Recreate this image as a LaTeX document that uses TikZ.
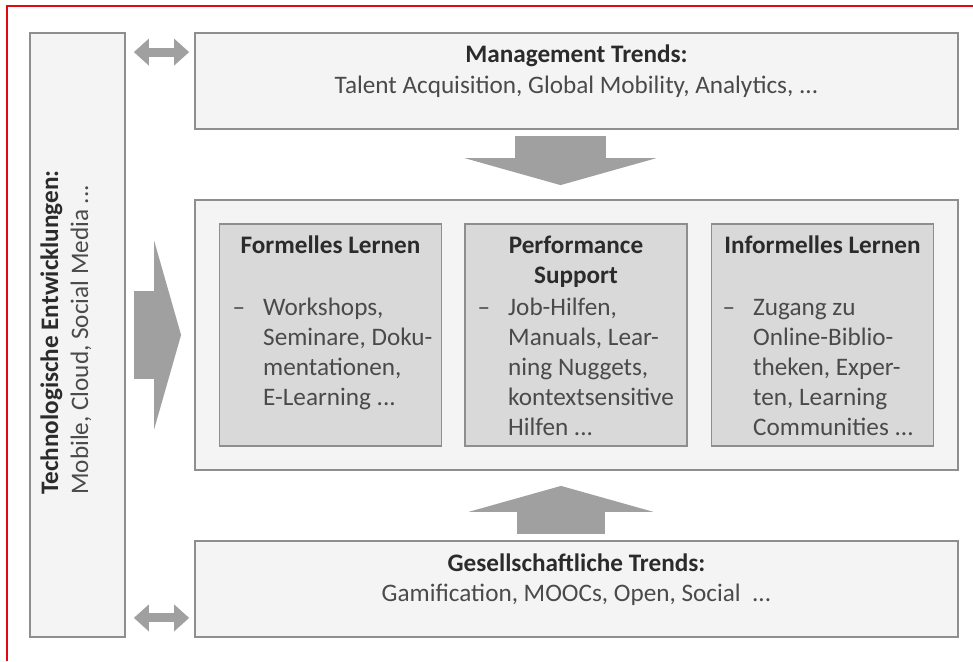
\documentclass[tikz,border=0pt]{standalone}
\usepackage{fontspec}
\setmainfont{Carlito}
\usepackage{tikz}
\usetikzlibrary{arrows.meta,positioning}

\definecolor{framered}{HTML}{E30613}
\definecolor{boxfill}{HTML}{F4F4F4}
\definecolor{learnfill}{HTML}{D9D9D9}
\definecolor{boxline}{HTML}{8E8E8E}
\definecolor{arrowgray}{HTML}{A0A0A0}
\definecolor{headgray}{HTML}{2B2B2B}
\definecolor{bodygray}{HTML}{4A4A4A}

\newcommand{\basesize}{\fontsize{25.2}{30}\selectfont}
\newcommand{\itemdash}{\llap{--\hspace{18pt}}}

\tikzset{
  trendbox/.style={draw=boxline, fill=boxfill, line width=1.8pt, minimum width=763pt, inner sep=0pt},
  learnbox/.style={draw=boxline, fill=learnfill, line width=1.8pt, minimum width=222pt, minimum height=222pt, inner sep=0pt},
  headtext/.style={font=\basesize\bfseries, text=headgray, inner sep=0pt},
  bodytext/.style={font=\basesize, text=bodygray, inner sep=0pt},
  duoarrow/.style={draw=arrowgray, line width=9pt,
    {Triangle[length=15pt, width=27pt, line width=0pt]}-{Triangle[length=15pt, width=27pt, line width=0pt]}},
  bigarrow/.style={draw=arrowgray, line width=#1pt}
}

\begin{document}
\begin{tikzpicture}[x=1pt, y=-1pt]
\useasboundingbox (0,0) rectangle (973,661);
\draw[framered, line width=2.5pt] (7,661) -- (7,6) -- (973,6);

\node[draw=boxline, fill=boxfill, line width=1.8pt, minimum width=95pt, minimum height=604pt, inner sep=0pt] (tech) at (77.5,335) {};
\node[headtext, rotate=90, anchor=base west] (techtitle) at (58,495) {Technologische Entwicklungen:};
\node[bodytext, rotate=90, anchor=base west] (techlist) at (88,495) {Mobile, Cloud, Social Media ...};

\node[trendbox, minimum height=96pt] (mgmt) at (576.5,81) {};
\node[headtext, anchor=base] (mgmttitle) at (576.5,63) {Management Trends:};
\node[bodytext, anchor=base] (mgmtlist) at (576.5,93) {Talent Acquisition, Global Mobility, Analytics, ...};

\node[trendbox, minimum height=270pt] (core) at (576.5,335) {};
\node[learnbox] (formal) at (330.5,335) {};
\node[learnbox] (perform) at (576,335) {};
\node[learnbox] (informal) at (822.5,335) {};

\node[headtext, anchor=base] (formaltitle) at (330.5,253) {Formelles Lernen};
\node[headtext, anchor=base, align=center] (performtitle) at (576,283) {Performance\\Support};
\node[headtext, anchor=base] (informaltitle) at (822.5,253) {Informelles Lernen};

\node[bodytext, anchor=base west, align=left] (formallist) at (263,405) {\itemdash Workshops,\\Seminare, Doku-\\mentationen,\\E-Learning ...};
\node[bodytext, anchor=base west, align=left] (performlist) at (508,435) {\itemdash Job-Hilfen,\\Manuals, Lear-\\ning Nuggets,\\kontextsensitive\\Hilfen ...};
\node[bodytext, anchor=base west, align=left] (informallist) at (753,435) {\itemdash Zugang zu\\Online-Biblio-\\theken, Exper-\\ten, Learning\\Communities ...};

\node[trendbox, minimum height=96pt] (gesell) at (576.5,589) {};
\node[headtext, anchor=base] (geselltitle) at (576.5,571) {Gesellschaftliche Trends:};
\node[bodytext, anchor=base] (gesellist) at (576.5,601) {Gamification, MOOCs, Open, Social\ \ ...};

\draw[duoarrow, shorten <=8pt, shorten >=5pt] ([yshift=-20pt]tech.north east) -- ([yshift=-20pt]mgmt.north west);
\draw[duoarrow, shorten <=8pt, shorten >=5pt] ([yshift=20pt]tech.south east) -- ([yshift=20pt]gesell.south west);

\draw[bigarrow=91, -{Triangle[length=27pt, width=192pt, line width=0pt]}, shorten <=6pt, shorten >=14pt] ([xshift=-16pt]mgmt.south) -- ([xshift=-16pt]core.north);
\draw[bigarrow=88, -{Triangle[length=26pt, width=185pt, line width=0pt]}, shorten <=6pt, shorten >=15pt] ([xshift=-15.5pt]gesell.north) -- ([xshift=-15.5pt]core.south);
\draw[bigarrow=88, -{Triangle[length=27pt, width=189pt, line width=0pt]}, shorten <=8pt, shorten >=13pt] (tech.east) -- (core.west);
\end{tikzpicture}
\end{document}
